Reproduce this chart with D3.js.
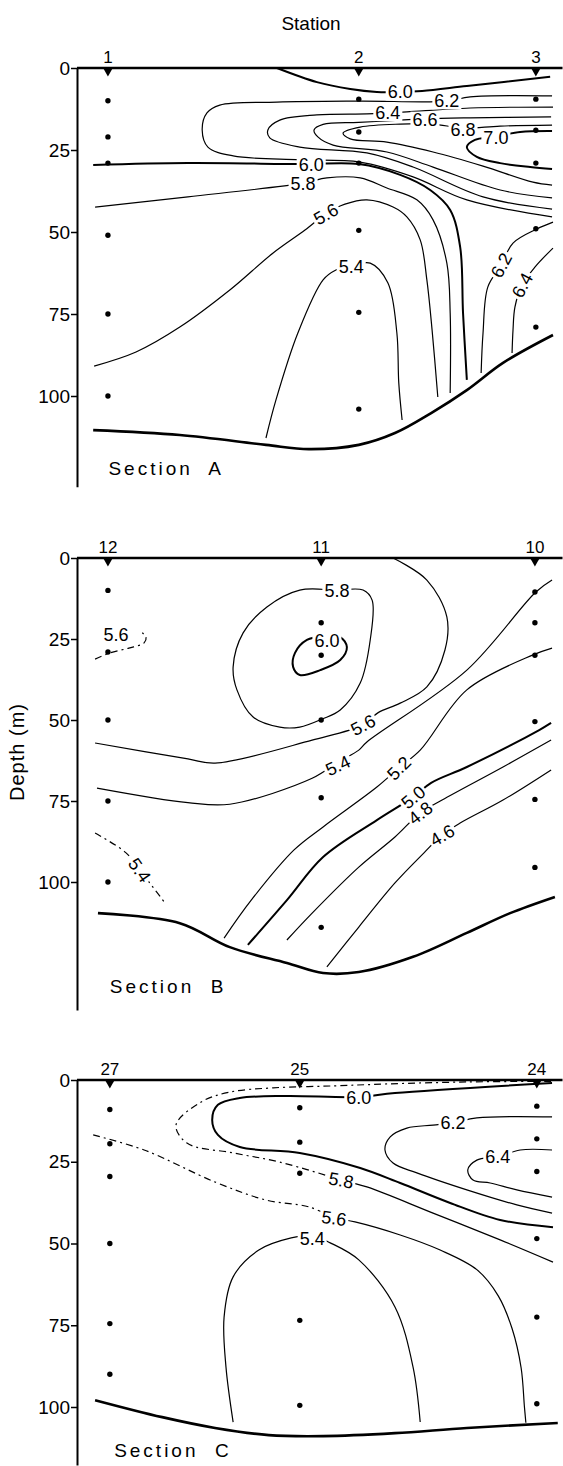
<!DOCTYPE html>
<html lang="en">
<head>
<meta charset="UTF-8">
<title>Sections A, B, C</title>
<script src="https://cdnjs.cloudflare.com/ajax/libs/d3/7.9.0/d3.min.js"></script>
<style>
  body { margin: 0; background: #fff; }
  svg { display: block; font-family: "Liberation Sans", Arial, sans-serif; }
</style>
</head>
<body>
<div id="chart"></div>
<script>
// ---- data: distance along section (0-100) and depth (m) ----
const depthTicks = [0, 25, 50, 75, 100];

// Section A
const stationsA = ["1", "2", "3"];
const stationKmA = [6.5, 59.2, 96.4];
const samplesA = [[10, 21, 29, 51, 75, 100], [9.5, 19.5, 29, 49.5, 74.5, 104], [9.5, 19, 29, 49, 79]];
const bottomA = [[3.4,110.4],[21.6,111.9],[39.7,114.9],[48.7,116.2],[59.2,114.9],[66.8,111.3],[74.4,105.2],[81.9,98.2],[89.5,89.9],[100,81.4]];
const A_60a = [[42,0],[50.4,4.3],[57.4,6.4],[63,7.3],[67.9,7.3],[72.5,7],[81.9,5.5],[99.4,2.7]];
const A_62a = [[99.8,8.5],[82.6,8.8],[77.7,10.1],[59.5,10.1],[42,10.4],[30,11.3],[27.3,13.7],[26.3,18.9],[27.5,24.1],[32.8,26.8],[46.8,28],[59.5,28.7],[70.6,33.2],[81.9,40.2],[99.8,45.4]];
const A_64a = [[100,11.9],[82.6,12.2],[69.3,13.4],[65.3,13.7],[60.9,14],[50.4,14.3],[42.6,15.9],[40.1,18.9],[40.5,21.3],[46.8,24.1],[60.9,25.9],[70.6,30.2],[85.3,39.3],[99.8,43]];
const A_66 = [[99.6,14.9],[82.6,15.2],[73.1,15.5],[67.9,15.9],[59.2,16.6],[51.7,17.2],[49.8,18.9],[50.6,21],[53.8,23.5],[65.1,25.6],[74.8,30.2],[88.9,37.2],[99.8,39.6]];
const A_68 = [[99.8,17.4],[88.9,17.7],[81.1,18.3],[74.8,17.1],[67.9,17.1],[59.5,18],[55.9,19.8],[57.4,21.6],[65.1,22.6],[74.8,25.6],[85.3,29.9],[95.8,34.8],[99.8,35.7]];
const A_70 = [[99.8,19.2],[93.1,19.5],[87.6,21],[83.6,21.9],[81.9,24.1],[84,27.1],[88.9,29],[95.2,30.2],[99.8,30.8]];
const A_60b = [[3.4,29.6],[23.3,29],[47.5,29.3],[59.2,29.3],[67.9,32.6],[74.2,37.2],[78.4,43.3],[80.5,54.6],[81.1,74.7],[81.9,95.1]];
const A_58 = [[3.8,42.4],[23.3,39.3],[47.5,35.1],[52.5,33.5],[59.5,33.5],[65.1,36.6],[71.4,40.2],[74.8,46.3],[77.7,59.5],[78.4,74.7],[78.4,99.1]];
const A_56 = [[3.6,90.9],[12.4,86.6],[21.6,79],[32.1,67.7],[41.2,56.4],[47.9,49.4],[52.5,44.2],[56.3,41.5],[60.9,40.2],[66.4,42.4],[69.3,45.4],[72.1,52.4],[73.5,64.6],[74.6,79.9],[75.8,100.3]];
const A_54 = [[39.7,112.8],[41.8,101.2],[46.4,80.8],[51.7,64.6],[54.4,61.6],[57.4,60.4],[61.6,59.5],[65.3,65.5],[67.2,80.8],[67.6,96],[68.3,107.3]];
const A_62b = [[100,47],[96.6,49.1],[91.6,53.4],[89.1,60.1],[86.3,66.8],[85.3,80.8],[84.9,93]];
const A_64b = [[100,54.9],[96.2,60.7],[93.5,66.2],[92,72.9],[91.6,79.9],[91.4,86.9]];
// contour labels: value, distance, depth, rotation
const labelsA = [[6.0,67.9,7.3,0],[6.2,77.7,10,0],[6.4,65.3,13.6,0],[6.6,73.1,15.6,0],[6.8,81.1,18.8,0],[7.0,88,21.2,0],
  [6.0,49.2,29.4,0],[5.8,47.5,35.3,0],[5.6,52.3,44.5,-30],[5.4,57.6,60.4,0],[6.2,89.1,60.1,-62],[6.4,93.5,66.2,-62]];

// Section B
const stationsB = ["12", "11", "10"];
const stationKmB = [6.5, 51.3, 96.2];
const samplesB = [[10, 29, 50, 75, 100], [20, 30, 50, 74, 114], [10.5, 20, 30, 50.5, 74.5, 95.5]];
const bottomB = [[4.4,109.6],[21.6,112.7],[32.1,120.1],[44.1,125],[51.7,128.1],[59.2,127.8],[70.6,123.1],[81.9,115.7],[91,109.6],[100.4,104.6]];
const B_56a = [[3.8,31.2],[6.9,29.3],[10.9,27.8],[14.1,26.2],[14.5,24.4],[13.7,23.1]];
const B_58 = [[54.6,9.9],[60.1,9.9],[62,13],[61.6,25.3],[59.5,38.6],[55.3,46.9],[51.5,49.7],[46.8,52.2],[42.6,52.2],[37,49.1],[33.6,40.7],[32.8,33.6],[34.9,23.1],[39.9,15.1],[46.8,9.9]];
const B_60 = [[55.3,24.4],[56.7,27.5],[55.3,31.5],[51.1,34.6],[46.8,36.1],[45.4,33.6],[45.8,29.3],[48.3,25.3],[52,24.2]];
const B_56b = [[3.8,57.1],[23.3,62],[29,63.3],[49.4,56.2],[60.1,51.5],[63.2,47.8],[67.9,44.8],[73.5,39.8],[77.3,28.4],[77.7,18.2],[73.5,6.8],[66.4,0]];
const B_54a = [[4.2,71],[23.3,75.5],[32.1,76],[49.4,68],[54.8,63],[59.2,59.3],[60.9,56.8],[81.9,34.6],[96.4,10.5],[99.8,6.8]];
const B_54b = [[3.8,84.9],[10.3,91],[13.2,96.3],[18.5,106.5]];
const B_52 = [[30.9,117.3],[36.6,105.6],[45.6,90.1],[51.7,83],[63,70.7],[67.6,64.8],[72.1,59.3],[81.9,40.7],[95.8,29.9],[99.8,27.8]];
const B_50 = [[35.9,119.4],[44.1,105.6],[51.7,92.3],[63,80.9],[70.6,73.8],[74.4,69.4],[81.9,64.5],[97.1,53.1],[99.6,50.9]];
const B_48 = [[44.1,117.9],[49.4,109.6],[59.2,95.4],[66.8,86.1],[72.1,78.7],[76.7,74.7],[89.5,64.5],[99.6,56.2]];
const B_46 = [[52.5,126.2],[59.2,113.9],[66.8,100.3],[72.9,91],[76.7,85.5],[80.5,81.8],[89.5,74.7],[99.6,65.4]];
const labelsB = [[5.6,8.2,23.5,0],[5.8,54.6,9.9,0],[6.0,52.5,25.5,0],[5.6,60.1,51.5,-28],[5.4,54.8,64,-25],[5.4,13.2,96.3,55],
  [5.2,67.6,64.8,-45],[5.0,70.6,73.8,-40],[4.8,72.1,78.7,-38],[4.6,76.7,85.5,-30]];

// Section C
const stationsC = ["27", "25", "24"];
const stationKmC = [6.9, 46.8, 96.6];
const samplesC = [[9, 19.5, 29.5, 50, 74.5, 90], [8.5, 19, 28.5, 73.5, 99.5], [8, 18, 28, 48.5, 72.5, 99]];
const bottomC = [[3.8,97.9],[17.9,103.1],[29,106.4],[40.3,108.6],[51.7,108.9],[66.8,108],[81.9,106.4],[101,104.9]];
const C_58a = [[99.6,0.4],[81.9,0.6],[65.3,1.2],[54,1.8],[41.2,2.4],[32.1,3.7],[26.1,6.7],[20.8,13.8],[23.1,19.3],[32.8,22.3],[42.6,25.1],[55.5,30.6]];
const C_58b = [[55.5,30.6],[60.9,32.7],[74.8,40.7],[88.9,48.9],[100,55.7]];
const C_60 = [[99.8,0.9],[66.8,4],[59.2,5.2],[44.1,4.9],[34.2,5.5],[29.6,7.6],[28.4,12.2],[29.6,16.8],[34.2,20.5],[46.8,22.3],[59.5,26.9],[67.9,31.5],[78.4,37.6],[88.9,42.8],[100,45]];
const C_62 = [[99.8,11.3],[84,11.6],[79,13.1],[74.8,13.8],[69.3,14.7],[65.8,17.4],[64.7,21.4],[66.4,25.4],[71.4,28.4],[81.9,33.6],[92.4,38.2],[99.8,40.7]];
const C_64 = [[99.8,21.4],[93.1,21.4],[88.4,23.5],[84,24.5],[82.1,27.5],[83.2,30.6],[86.8,31.5],[92.4,33.6],[99.8,35.8]];
const C_56a = [[3.4,16.8],[14.1,21.4],[29,31.2],[39.7,36.7],[48.7,38.8],[54,42.2]];
const C_56b = [[54,42.2],[58.4,43.4],[67.9,47.4],[76.3,52],[84,58],[88.5,66],[91.4,76],[93.3,88],[94,100],[94.3,104.8]];
const C_54 = [[32.8,104.6],[31.3,87.8],[30.9,72.5],[32.8,60.2],[38.2,52],[45,48.3],[49.4,47.6],[53.2,49.8],[59.2,55],[66.8,69.4],[70.6,87.8],[72.1,104.6]];
const labelsC = [[6.0,59.2,5.3,0],[6.2,79,13.1,0],[6.4,88.4,23.5,0],[5.8,55.5,30.6,10],[5.6,54,42.2,8],[5.4,49.4,48.5,0]];

// ---- layout ----
const W = 563, H = 1466;
const FONT = '"Liberation Sans", Arial, sans-serif';

const panels = [
  { top: 68, px100: 396, maxDepth: 127.7, names: stationsA, km: stationKmA, samples: samplesA, bottom: bottomA, labels: labelsA,
    title: "Section  A", titleAt: [6.6, 124],
    lines: [
      { pts: A_60a, level: 6.0 }, { pts: A_62a, level: 6.2 }, { pts: A_64a, level: 6.4 }, { pts: A_66, level: 6.6 },
      { pts: A_68, level: 6.8 }, { pts: A_70, level: 7.0 }, { pts: A_60b, level: 6.0 }, { pts: A_58, level: 5.8 },
      { pts: A_56, level: 5.6 }, { pts: A_54, level: 5.4 }, { pts: A_62b, level: 6.2 }, { pts: A_64b, level: 6.4 }
    ] },
  { top: 558, px100: 882, maxDepth: 139.5, names: stationsB, km: stationKmB, samples: samplesB, bottom: bottomB, labels: labelsB,
    title: "Section  B", titleAt: [6.9, 134.3],
    lines: [
      { pts: B_56a, level: 5.6, dashed: true }, { pts: B_58, level: 5.8, closed: true }, { pts: B_60, level: 6.0, closed: true },
      { pts: B_56b, level: 5.6 }, { pts: B_54a, level: 5.4 }, { pts: B_54b, level: 5.4, dashed: true },
      { pts: B_52, level: 5.2 }, { pts: B_50, level: 5.0 }, { pts: B_48, level: 4.8 }, { pts: B_46, level: 4.6 }
    ] },
  { top: 1080, px100: 1407, maxDepth: 117.7, names: stationsC, km: stationKmC, samples: samplesC, bottom: bottomC, labels: labelsC,
    title: "Section  C", titleAt: [7.8, 115.3],
    lines: [
      { pts: C_58a, level: 5.8, dashed: true }, { pts: C_58b, level: 5.8 }, { pts: C_60, level: 6.0 },
      { pts: C_62, level: 6.2 }, { pts: C_64, level: 6.4 }, { pts: C_56a, level: 5.6, dashed: true },
      { pts: C_56b, level: 5.6 }, { pts: C_54, level: 5.4 }
    ] }
];

const svg = d3.select("#chart").append("svg").attr("width", W).attr("height", H);

const x = d3.scaleLinear().domain([0, 100]).range([77, 553]);

panels.forEach(p => {
  const y = d3.scaleLinear()
    .domain([0, p.maxDepth])
    .range([p.top, p.top + (p.px100 - p.top) * p.maxDepth / 100]);
  const g = svg.append("g");

  // depth axis
  g.append("g")
    .attr("transform", `translate(${x(0)},0)`)
    .call(d3.axisLeft(y).tickValues(depthTicks).tickSize(6).tickPadding(1).tickSizeOuter(0))
    .call(a => a.select(".domain").attr("stroke-width", 2))
    .call(a => a.selectAll(".tick line").attr("stroke-width", 1.5))
    .call(a => a.selectAll(".tick text").attr("font-size", 19).attr("font-family", FONT).attr("fill", "#000"));

  // sea surface
  g.append("line")
    .attr("x1", x(0)).attr("x2", x(102))
    .attr("y1", y(0)).attr("y2", y(0))
    .attr("stroke", "#000").attr("stroke-width", 2.6);

  // contours
  const line = d3.line().x(d => x(d[0])).y(d => y(d[1])).curve(d3.curveCatmullRom.alpha(0.5));
  const closedLine = d3.line().x(d => x(d[0])).y(d => y(d[1])).curve(d3.curveCatmullRomClosed.alpha(0.5));
  g.selectAll("path.contour")
    .data(p.lines)
    .enter().append("path")
    .attr("class", "contour")
    .attr("d", d => (d.closed ? closedLine : line)(d.pts))
    .attr("fill", "none")
    .attr("stroke", "#000")
    .attr("stroke-width", d => (Math.abs(d.level % 1) < 1e-9 ? 2 : 1.2))
    .attr("stroke-dasharray", d => (d.dashed ? "7,4,2,4" : null));

  // bottom
  g.append("path")
    .attr("d", line(p.bottom))
    .attr("fill", "none")
    .attr("stroke", "#000")
    .attr("stroke-width", 2.6);

  // contour labels, on a white patch that breaks the line
  const lab = g.selectAll("g.clab")
    .data(p.labels)
    .enter().append("g")
    .attr("class", "clab")
    .attr("transform", d => `translate(${x(d[1])},${y(d[2])}) rotate(${d[3]})`);
  lab.append("text")
    .attr("text-anchor", "middle")
    .attr("dy", "0.36em")
    .attr("font-size", 18)
    .attr("font-family", FONT)
    .attr("fill", "#000")
    .text(d => d[0].toFixed(1));
  lab.each(function () {
    const t = d3.select(this).select("text");
    const b = t.node().getBBox();
    d3.select(this).insert("rect", "text")
      .attr("x", b.x - 2).attr("y", b.y + 2)
      .attr("width", b.width + 4).attr("height", b.height - 4)
      .attr("fill", "#fff");
  });

  // station markers and names
  const tri = d3.symbol().type(d3.symbolTriangle).size(38);
  g.selectAll("path.mark")
    .data(p.km)
    .enter().append("path")
    .attr("class", "mark")
    .attr("d", tri)
    .attr("transform", d => `translate(${x(d)},${y(0) + 3}) rotate(180)`)
    .attr("fill", "#000");

  g.selectAll("text.st")
    .data(p.names)
    .enter().append("text")
    .attr("class", "st")
    .attr("x", (d, i) => x(p.km[i]))
    .attr("y", y(0) - 5)
    .attr("text-anchor", "middle")
    .attr("font-size", 17)
    .attr("font-family", FONT)
    .text(d => d);

  // sample points
  const pts = p.samples.flatMap((ds, i) => ds.map(dep => [p.km[i], dep]));
  g.selectAll("circle")
    .data(pts)
    .enter().append("circle")
    .attr("cx", d => x(d[0]))
    .attr("cy", d => y(d[1]))
    .attr("r", 2.7)
    .attr("fill", "#000");

  // section name
  g.append("text")
    .attr("x", x(p.titleAt[0]))
    .attr("y", y(p.titleAt[1]))
    .attr("font-size", 19)
    .attr("font-family", FONT)
    .attr("letter-spacing", 3)
    .style("white-space", "pre")
    .text(p.title);
});

svg.append("text")
  .attr("x", 311).attr("y", 30)
  .attr("text-anchor", "middle")
  .attr("font-size", 19)
  .attr("font-family", FONT)
  .text("Station");

svg.append("text")
  .attr("transform", "translate(24,752) rotate(-90)")
  .attr("text-anchor", "middle")
  .attr("font-size", 20)
  .attr("font-family", FONT)
  .attr("letter-spacing", 1)
  .style("white-space", "pre")
  .text("Depth (m)");
</script>
</body>
